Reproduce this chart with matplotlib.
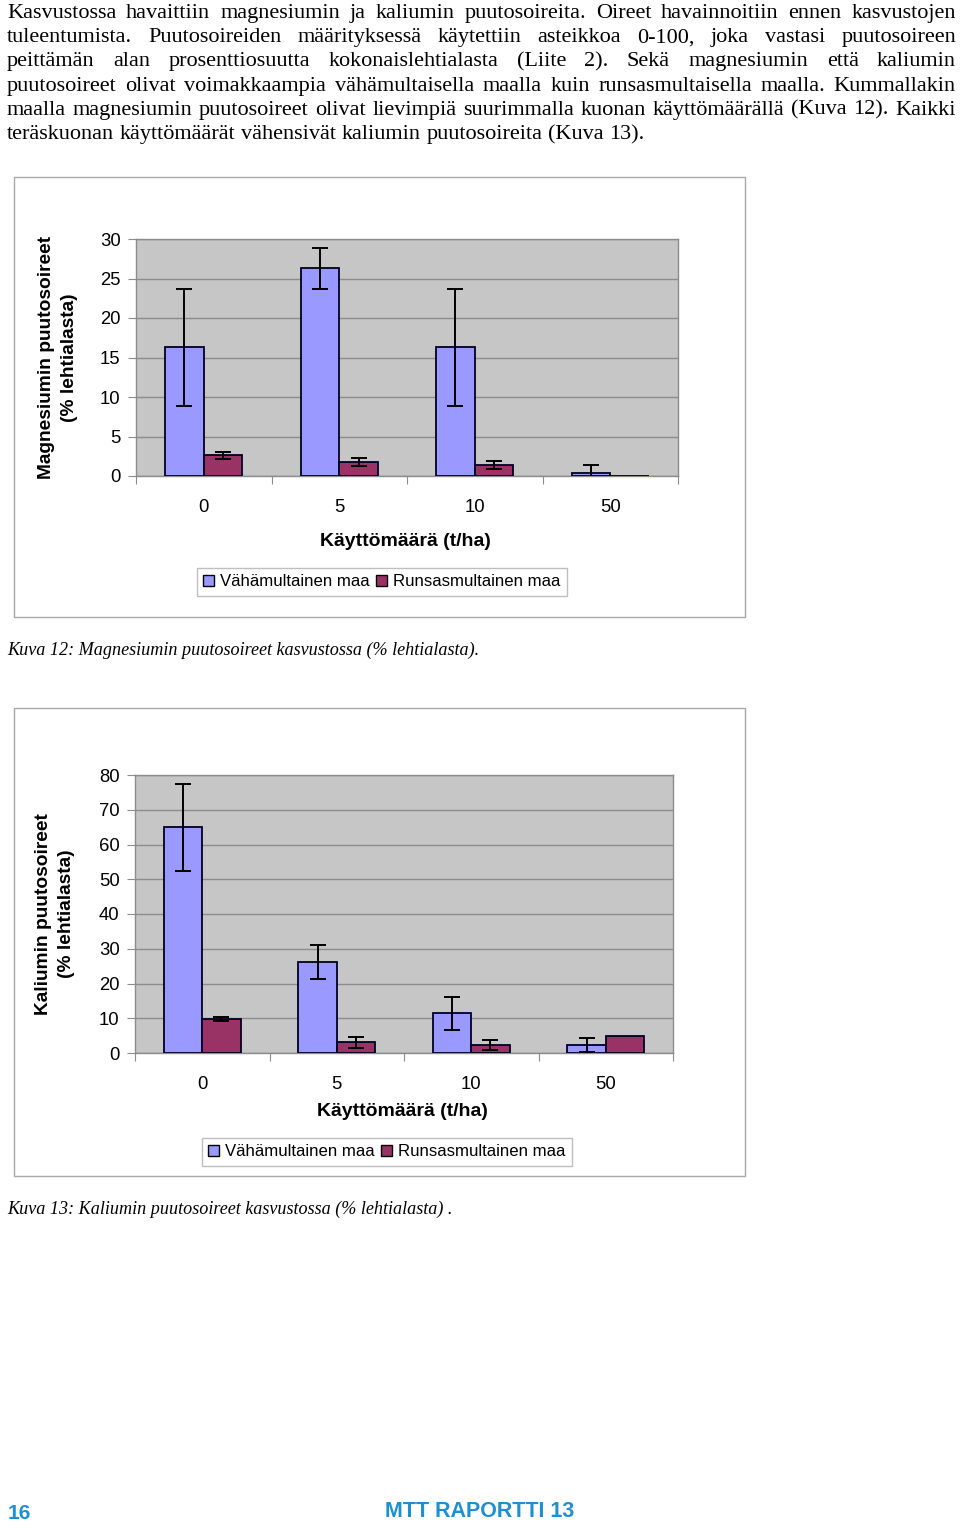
import matplotlib
matplotlib.use("Agg")
import matplotlib.pyplot as plt
import numpy as np
from matplotlib.patches import Patch, Rectangle

W, H = 960, 1522

categories = ["0", "5", "10", "50"]
series_names = ["Vähämultainen maa", "Runsasmultainen maa"]

mg_low = [16.3, 26.3, 16.3, 0.4]
mg_low_err = [7.4, 2.6, 7.4, 1.0]
mg_high = [2.6, 1.8, 1.4, 0.05]
mg_high_err = [0.5, 0.5, 0.5, 0.0]

k_low = [64.9, 26.1, 11.4, 2.2]
k_low_err = [12.4, 4.9, 4.8, 2.0]
k_high = [9.8, 3.1, 2.2, 5.0]
k_high_err = [0.5, 1.6, 1.4, 0.0]

body_lines = [
    "Kasvustossa havaittiin magnesiumin ja kaliumin puutosoireita. Oireet havainnoitiin ennen kasvustojen",
    "tuleentumista. Puutosoireiden määrityksessä käytettiin asteikkoa 0-100, joka vastasi puutosoireen",
    "peittämän alan prosenttiosuutta kokonaislehtialasta (Liite 2). Sekä magnesiumin että kaliumin",
    "puutosoireet olivat voimakkaampia vähämultaisella maalla kuin runsasmultaisella maalla. Kummallakin",
    "maalla magnesiumin puutosoireet olivat lievimpiä suurimmalla kuonan käyttömäärällä (Kuva 12). Kaikki",
    "teräskuonan käyttömäärät vähensivät kaliumin puutosoireita (Kuva 13).",
]

BLUE = "#9999ff"
RED = "#993366"
PLOT_BG = "#c6c6c6"
GRID = "#8c8c8c"


def fx(x):
    return x / W


def fy(y):
    return 1 - y / H


def px_axes(fig, x0, y0, x1, y1):
    return fig.add_axes([fx(x0), fy(y1), (x1 - x0) / W, (y1 - y0) / H])


def justify(fig, renderer, text, x0, x1, y, last=False, **kw):
    words = text.split()
    widths = []
    for w in words:
        t = fig.text(0, 0, w, **kw)
        widths.append(t.get_window_extent(renderer).width)
        t.remove()
    if last:
        sp = fig.text(0, 0, "a a", **kw)
        gap = sp.get_window_extent(renderer).width
        sp.remove()
        a = fig.text(0, 0, "aa", **kw)
        gap -= a.get_window_extent(renderer).width
        a.remove()
    else:
        gap = (x1 - x0 - sum(widths)) / (len(words) - 1)
    x = x0
    for w, wd in zip(words, widths):
        fig.text(fx(x), fy(y), w, va="baseline", ha="left", **kw)
        x += wd + gap


def chart(fig, frame, plot, low, low_err, high, high_err, ymax, ystep,
          ylabel, ylab_x, xlab_y, leg_c):
    fig.add_artist(Rectangle((fx(frame[0]), fy(frame[3])),
                             (frame[2] - frame[0]) / W, (frame[3] - frame[1]) / H,
                             transform=fig.transFigure, fill=False,
                             edgecolor="#a8a8a8", lw=1.0))
    ax = px_axes(fig, *plot)
    ax.set_facecolor(PLOT_BG)
    x = np.arange(len(categories))
    bw = 0.285
    ekw = dict(ecolor="black", elinewidth=1.4, capsize=6, capthick=1.4)
    ax.bar(x - bw / 2, low, bw, color=BLUE, edgecolor="#000022", lw=1.3,
           yerr=low_err, error_kw=ekw, zorder=3)
    ax.bar(x + bw / 2, high, bw, color=RED, edgecolor="#000022", lw=1.3,
           yerr=[e if e > 0 else np.nan for e in high_err], error_kw=ekw, zorder=3)
    ax.set_xlim(-0.5, len(categories) - 0.5)
    ax.set_ylim(0, ymax)
    ax.set_yticks(np.arange(0, ymax + 1, ystep))
    ax.yaxis.grid(True, color=GRID, lw=1.0, zorder=0)
    ax.set_axisbelow(True)
    ax.set_xticks(np.arange(-0.5, len(categories), 1.0))
    ax.set_xticklabels([])
    ax.set_xticks(x, minor=True)
    ax.set_xticklabels(categories, minor=True)
    ax.tick_params(axis="x", which="minor", length=0, pad=16.5, labelsize=13.3)
    ax.tick_params(axis="x", which="major", length=6, color=GRID, direction="out")
    ax.tick_params(axis="y", length=6, color=GRID, pad=5, labelsize=13.3)
    for s in ax.spines.values():
        s.set_color(GRID)
        s.set_linewidth(1.0)
    for lbl in ax.get_xticklabels(minor=True) + ax.get_yticklabels():
        lbl.set_family("Liberation Sans")
    cy = (plot[1] + plot[3]) / 2
    fig.text(fx(ylab_x), fy(cy), ylabel, rotation=90, ha="center", va="center",
             family="Liberation Sans", weight="bold", fontsize=13.8, linespacing=1.5)
    fig.text(fx((plot[0] + plot[2]) / 2 - 2), fy(xlab_y), "Käyttömäärä (t/ha)",
             ha="center", va="center", family="Liberation Sans", weight="bold",
             fontsize=14)
    handles = [Patch(facecolor=BLUE, edgecolor="black", lw=1.0),
               Patch(facecolor=RED, edgecolor="black", lw=1.0)]
    leg = fig.legend(handles, series_names, loc="center",
                     bbox_to_anchor=(fx(leg_c[0]), fy(leg_c[1])), ncol=2,
                     frameon=True, fancybox=False, handlelength=0.65, handleheight=0.65,
                     handletextpad=0.35, columnspacing=0.4, borderpad=0.4,
                     prop={"family": "Liberation Sans", "size": 12.1})
    leg.get_frame().set_edgecolor("#b0b0b0")
    leg.get_frame().set_linewidth(1.0)
    return ax


fig = plt.figure(figsize=(W / 100, H / 100), dpi=100)
fig.patch.set_facecolor("white")
renderer = fig.canvas.get_renderer()

body_kw = dict(family="Liberation Serif", fontsize=16, color="black")
for i, line in enumerate(body_lines):
    justify(fig, renderer, line, 7, 956, 18 + i * 24.2,
            last=(i == len(body_lines) - 1), **body_kw)

chart(fig, (14, 177, 745, 617), (136, 239, 678, 476), mg_low, mg_low_err,
      mg_high, mg_high_err, 30, 5,
      "Magnesiumin puutosoireet\n(% lehtialasta)", 58, 541, (382, 582))
fig.text(fx(7), fy(655), "Kuva 12: Magnesiumin puutosoireet kasvustossa (% lehtialasta).",
         family="Liberation Serif", style="italic", fontsize=13.1, va="baseline")

chart(fig, (14, 708, 745, 1176), (135, 775, 673, 1053), k_low, k_low_err,
      k_high, k_high_err, 80, 10,
      "Kaliumin puutosoireet\n(% lehtialasta)", 55, 1112, (387, 1152))
fig.text(fx(7), fy(1214), "Kuva 13: Kaliumin puutosoireet kasvustossa (% lehtialasta) .",
         family="Liberation Serif", style="italic", fontsize=13.1, va="baseline")

fig.text(fx(8), fy(1519), "16", family="Liberation Sans", weight="bold",
         fontsize=15, color="#1f8fd0", va="baseline")
fig.text(fx(385), fy(1517), "MTT RAPORTTI 13", family="Liberation Sans",
         weight="heavy", fontsize=15.5, color="#1f8fd0", va="baseline")

fig.savefig("out.png", dpi=100, facecolor="white")
